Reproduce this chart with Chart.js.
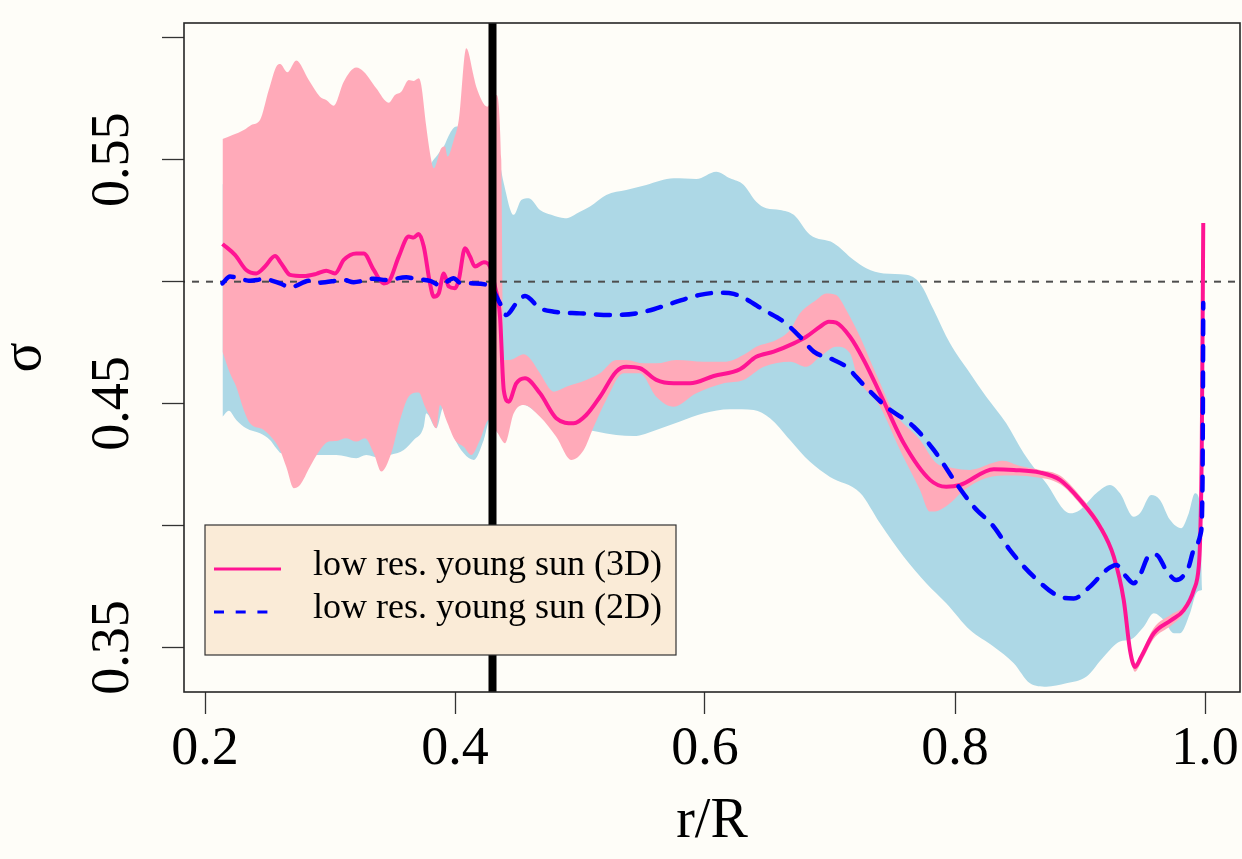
<!DOCTYPE html>
<html>
<head>
<meta charset="utf-8">
<script src="https://cdn.jsdelivr.net/npm/chart.js@4"></script>
<style>
  html, body { margin: 0; padding: 0; background: #fefdf8; }
  #wrap { width: 1242px; height: 859px; }
</style>
</head>
<body>
<div id="wrap"><canvas id="myChart" width="1242" height="859"></canvas></div>
<script>
// axis ticks
const xTicks = [0.2, 0.4, 0.6, 0.8, 1.0];
const xTickLabels = ['0.2', '0.4', '0.6', '0.8', '1.0'];
const yTicks = [0.35, 0.40, 0.45, 0.50, 0.55, 0.60];
const yTickLabels = ['0.35', '', '0.45', '', '0.55', ''];

const seriesNames = ['low res. young sun (3D)', 'low res. young sun (2D)'];

// base of convection zone and reference sigma
const rBase = 0.43;
const sigmaRef = 0.5;

// 3D run, mean
const r3D = [
  0.214,0.224,0.233,0.241,0.248,0.256,0.261,0.268,0.279,0.289,
  0.297,0.304,0.311,0.321,0.327,0.335,0.343,0.347,0.355,0.363,
  0.367,0.371,0.375,0.380,0.383,0.387,0.391,0.395,0.400,0.403,
  0.408,0.412,0.416,0.423,0.428,0.432,0.436,0.439,0.443,0.449,
  0.456,0.468,0.481,0.495,0.505,0.516,0.529,0.537,0.548,0.561,
  0.575,0.588,0.607,0.628,0.641,0.655,0.671,0.681,0.692,0.699,
  0.705,0.716,0.727,0.740,0.759,0.780,0.793,0.804,0.831,0.847,
  0.868,0.884,0.900,0.916,0.927,0.935,0.940,0.944,0.949,0.959,
  0.973,0.983,0.991,0.995,0.996,0.9974,0.9986
];
const sigma3D = [
  0.5155,0.5110,0.5048,0.5034,0.5062,0.5105,0.5075,0.5028,0.5023,0.5032,
  0.5045,0.5034,0.5089,0.5116,0.5116,0.5048,0.4993,0.5000,0.5103,0.5185,
  0.5181,0.5196,0.5144,0.4993,0.4938,0.4952,0.5034,0.4980,0.4973,0.5007,
  0.5137,0.5103,0.5062,0.5080,0.5062,0.4980,0.4857,0.4556,0.4508,0.4583,
  0.4604,0.4542,0.4440,0.4419,0.4453,0.4528,0.4631,0.4651,0.4645,0.4597,
  0.4583,0.4583,0.4613,0.4641,0.4692,0.4713,0.4747,0.4774,0.4815,0.4836,
  0.4832,0.4774,0.4679,0.4542,0.4337,0.4187,0.4159,0.4166,0.4231,0.4228,
  0.4217,0.4187,0.4105,0.3995,0.3872,0.3694,0.3489,0.3420,0.3462,0.3558,
  0.3612,0.3653,0.3735,0.3831,0.3927,0.4310,0.5241
];

// 3D run, spread (upper / lower edge)
const r3DUp = [
  0.214,0.231,0.237,0.244,0.251,0.257,0.260,0.266,0.273,0.283,
  0.292,0.297,0.303,0.311,0.321,0.327,0.337,0.347,0.352,0.357,
  0.363,0.367,0.371,0.373,0.377,0.380,0.383,0.389,0.392,0.394,
  0.399,0.403,0.409,0.415,0.417,0.426,0.429,0.433,0.437,0.439,
  0.444,0.455,0.461,0.468,0.479,0.489,0.505,0.516,0.529,0.537,
  0.551,0.561,0.577,0.599,0.617,0.633,0.641,0.657,0.668,0.676,
  0.689,0.697,0.705,0.713,0.724,0.732,0.740,0.750,0.772,0.785,
  0.798,0.812,0.830,0.838,0.852,0.868,0.884,0.900,0.916,0.927,
  0.935,0.940,0.944,0.949,0.959,0.973,0.983,0.991,0.995,0.996,
  0.9974,0.9986
];
const sigma3DUp = [
  0.5585,0.5622,0.5643,0.5663,0.5786,0.5882,0.5893,0.5859,0.5907,0.5827,
  0.5759,0.5745,0.5722,0.5820,0.5878,0.5861,0.5793,0.5734,0.5766,0.5779,
  0.5827,0.5823,0.5834,0.5807,0.5636,0.5527,0.5465,0.5547,0.5554,0.5513,
  0.5581,0.5663,0.5957,0.5841,0.5800,0.5718,0.5745,0.5766,0.5499,0.4679,
  0.4679,0.4702,0.4679,0.4624,0.4549,0.4569,0.4597,0.4624,0.4679,0.4679,
  0.4665,0.4665,0.4679,0.4672,0.4672,0.4706,0.4733,0.4761,0.4802,0.4870,
  0.4925,0.4952,0.4945,0.4884,0.4774,0.4679,0.4585,0.4474,0.4351,0.4256,
  0.4236,0.4228,0.4256,0.4265,0.4244,0.4228,0.4205,0.4122,0.4012,0.3888,
  0.3710,0.3505,0.3436,0.3478,0.3580,0.3635,0.3670,0.3750,0.3845,0.3940,
  0.4320,0.5250
];
const r3DLo = [
  0.214,0.220,0.225,0.231,0.236,0.247,0.255,0.260,0.265,0.271,
  0.276,0.284,0.292,0.299,0.305,0.313,0.321,0.328,0.335,0.341,
  0.349,0.356,0.364,0.371,0.376,0.380,0.385,0.388,0.393,0.400,
  0.407,0.413,0.420,0.427,0.434,0.440,0.447,0.455,0.468,0.481,
  0.493,0.503,0.511,0.521,0.535,0.548,0.561,0.575,0.593,0.615,
  0.631,0.647,0.668,0.681,0.692,0.705,0.716,0.722,0.740,0.756,
  0.772,0.780,0.788,0.799,0.806,0.825,0.844,0.862,0.884,0.900,
  0.916,0.927,0.935,0.940,0.944,0.949,0.959,0.973,0.983,0.991,
  0.995,0.996,0.9974,0.9986
];
const sigma3DLo = [
  0.4713,0.4624,0.4569,0.4474,0.4419,0.4392,0.4351,0.4310,0.4241,0.4153,
  0.4166,0.4241,0.4310,0.4344,0.4347,0.4358,0.4344,0.4358,0.4296,0.4221,
  0.4296,0.4433,0.4535,0.4545,0.4487,0.4446,0.4399,0.4494,0.4433,0.4351,
  0.4323,0.4289,0.4351,0.4433,0.4380,0.4337,0.4460,0.4494,0.4446,0.4364,
  0.4269,0.4310,0.4405,0.4515,0.4624,0.4624,0.4528,0.4487,0.4542,0.4583,
  0.4597,0.4651,0.4672,0.4651,0.4692,0.4733,0.4706,0.4609,0.4487,0.4310,
  0.4146,0.4057,0.4064,0.4105,0.4140,0.4195,0.4205,0.4200,0.4170,0.4088,
  0.3978,0.3855,0.3678,0.3472,0.3400,0.3440,0.3535,0.3590,0.3638,0.3720,
  0.3818,0.3915,0.4300,0.5230
];

// 2D run, mean
const r2D = [
  0.214,0.220,0.236,0.247,0.260,0.268,0.284,0.292,0.311,0.319,
  0.335,0.345,0.361,0.368,0.380,0.388,0.399,0.404,0.415,0.428,
  0.436,0.441,0.449,0.456,0.468,0.479,0.500,0.527,0.545,0.559,
  0.575,0.596,0.612,0.623,0.633,0.647,0.663,0.676,0.687,0.703,
  0.713,0.727,0.745,0.767,0.783,0.801,0.815,0.831,0.844,0.863,
  0.884,0.895,0.908,0.921,0.929,0.937,0.943,0.948,0.956,0.961,
  0.969,0.977,0.987,0.991,0.9966,0.998,0.9986
];
const sigma2D = [
  0.4993,0.5021,0.5004,0.5010,0.4993,0.4977,0.5004,0.4996,0.5007,0.4998,
  0.5012,0.5007,0.5018,0.5012,0.5003,0.4986,0.5014,0.4996,0.4993,0.4980,
  0.4911,0.4863,0.4911,0.4941,0.4891,0.4877,0.4870,0.4863,0.4870,0.4887,
  0.4914,0.4946,0.4955,0.4950,0.4928,0.4884,0.4836,0.4774,0.4713,0.4679,
  0.4651,0.4576,0.4487,0.4405,0.4310,0.4173,0.4077,0.3995,0.3899,0.3790,
  0.3708,0.3701,0.3749,0.3817,0.3838,0.3790,0.3763,0.3797,0.3879,0.3879,
  0.3817,0.3776,0.3831,0.3899,0.3968,0.4174,0.4913
];

// 2D run, spread (upper / lower edge)
const r2DUp = [
  0.214,0.260,0.300,0.350,0.372,0.378,0.381,0.386,0.391,0.396,
  0.401,0.420,0.433,0.439,0.447,0.453,0.459,0.468,0.477,0.488,
  0.500,0.508,0.521,0.537,0.553,0.575,0.593,0.609,0.620,0.631,
  0.641,0.649,0.660,0.671,0.684,0.703,0.719,0.729,0.743,0.761,
  0.772,0.783,0.796,0.812,0.825,0.841,0.855,0.873,0.892,0.900,
  0.913,0.924,0.932,0.943,0.948,0.957,0.964,0.972,0.981,0.987,
  0.992,0.996,0.9976
];
const sigma2DUp = [
  0.540,0.545,0.545,0.545,0.545,0.545,0.5486,0.5520,0.5554,0.5609,
  0.5636,0.5620,0.5554,0.5404,0.5274,0.5335,0.5342,0.5294,0.5274,0.5260,
  0.5287,0.5308,0.5356,0.5376,0.5397,0.5424,0.5421,0.5451,0.5424,0.5397,
  0.5328,0.5301,0.5294,0.5274,0.5192,0.5158,0.5089,0.5055,0.5034,0.5028,
  0.4993,0.4884,0.4747,0.4624,0.4528,0.4419,0.4296,0.4173,0.4050,0.4064,
  0.4132,0.4166,0.4132,0.4036,0.4050,0.4125,0.4105,0.4023,0.3989,0.4050,
  0.4132,0.4091,0.3735
];
const r2DLo = [
  0.214,0.219,0.225,0.233,0.244,0.252,0.257,0.261,0.276,0.292,
  0.305,0.321,0.329,0.340,0.348,0.359,0.367,0.375,0.377,0.385,
  0.391,0.399,0.407,0.415,0.423,0.428,0.435,0.440,0.448,0.455,
  0.468,0.495,0.513,0.529,0.543,0.561,0.580,0.599,0.620,0.639,
  0.652,0.668,0.684,0.700,0.724,0.740,0.759,0.777,0.793,0.812,
  0.831,0.847,0.860,0.873,0.889,0.905,0.919,0.932,0.940,0.951,
  0.959,0.967,0.975,0.980,0.988,0.993,0.9976
];
const sigma2DLo = [
  0.4446,0.4471,0.4433,0.4399,0.4378,0.4351,0.4317,0.4296,0.4289,0.4289,
  0.4289,0.4276,0.4289,0.4277,0.4289,0.4310,0.4351,0.4405,0.4460,0.4399,
  0.4488,0.4364,0.4296,0.4269,0.4351,0.4433,0.4378,0.4405,0.4481,0.4494,
  0.4453,0.4405,0.4385,0.4371,0.4367,0.4392,0.4426,0.4460,0.4477,0.4474,
  0.4440,0.4351,0.4261,0.4199,0.4134,0.4009,0.3872,0.3763,0.3681,0.3571,
  0.3503,0.3435,0.3353,0.3339,0.3353,0.3380,0.3462,0.3524,0.3531,0.3585,
  0.3640,0.3612,0.3558,0.3558,0.3640,0.3722,0.3735
];

const pink = '#ff1493';
const blue = '#0000ff';

function pts(xs, ys) {
  return xs.map((x, i) => ({x: x, y: ys[i]}));
}

const xMin = 0.1832, xMax = 1.028;
const yMin = 0.3317, yMax = 0.6061;

// legend box and plot frame, drawn like base R
const frameAndLegend = {
  id: 'frameAndLegend',
  afterDraw(chart) {
    const {ctx, chartArea: a} = chart;
    ctx.save();
    ctx.strokeStyle = '#262626';
    ctx.lineWidth = 1.6;
    ctx.strokeRect(a.left, a.top, a.right - a.left, a.bottom - a.top);

    const left = a.left + 21, top = a.bottom - 167, w = 471, h = 130;
    ctx.fillStyle = '#faebd7';
    ctx.fillRect(left, top, w, h);
    ctx.lineWidth = 1.2;
    ctx.strokeStyle = '#333';
    ctx.strokeRect(left, top, w, h);

    const items = [
      {label: seriesNames[0], color: pink, dash: [], len: 67},
      {label: seriesNames[1], color: blue, dash: [10, 11.7], len: 54}
    ];
    ctx.font = '36px "Liberation Serif"';
    ctx.textBaseline = 'middle';
    items.forEach((it, i) => {
      const y = top + 44 + i * 43;
      ctx.beginPath();
      ctx.setLineDash(it.dash);
      ctx.strokeStyle = it.color;
      ctx.lineWidth = 3;
      ctx.moveTo(left + 9, y);
      ctx.lineTo(left + 9 + it.len, y);
      ctx.stroke();
      ctx.setLineDash([]);
      ctx.fillStyle = '#000';
      ctx.fillText(it.label, left + 108, y - 3);
    });
    ctx.restore();
  }
};

Chart.defaults.font.family = '"Liberation Serif", "Times New Roman", serif';
Chart.defaults.color = '#000';

const ctx = document.getElementById('myChart');
new Chart(ctx, {
  type: 'scatter',
  data: {
    datasets: [
      // 0 base of convection zone
      { data: [{x: rBase, y: 0.30}, {x: rBase, y: 0.65}], showLine: true,
        borderColor: '#000', borderWidth: 8, clip: 0, order: 0 },
      // 1 2D mean
      { label: seriesNames[1], data: pts(r2D, sigma2D), showLine: true,
        borderColor: blue, borderWidth: 4.5, borderDash: [14, 12], borderCapStyle: 'round',
        cubicInterpolationMode: 'monotone', clip: 0, order: 1 },
      // 2 3D mean
      { label: seriesNames[0], data: pts(r3D, sigma3D), showLine: true,
        borderColor: pink, borderWidth: 4,
        cubicInterpolationMode: 'monotone', clip: 0, order: 2 },
      // 3 reference line
      { data: [{x: 0.1, y: sigmaRef}, {x: 1.1, y: sigmaRef}], showLine: true,
        borderColor: '#4d4d4d', borderWidth: 2, borderDash: [7, 7], clip: 0, order: 3 },
      // 4-5 3D band
      { data: pts(r3DUp, sigma3DUp), showLine: true, borderWidth: 0, borderColor: 'rgba(0,0,0,0)',
        backgroundColor: '#ffaab9', fill: 5, cubicInterpolationMode: 'monotone', clip: 0, order: 4 },
      { data: pts(r3DLo, sigma3DLo), showLine: true, borderWidth: 0, borderColor: 'rgba(0,0,0,0)',
        fill: false, cubicInterpolationMode: 'monotone', clip: 0, order: 4 },
      // 6-7 2D band
      { data: pts(r2DUp, sigma2DUp), showLine: true, borderWidth: 0, borderColor: 'rgba(0,0,0,0)',
        backgroundColor: '#add8e6', fill: 7, cubicInterpolationMode: 'monotone', clip: 0, order: 5 },
      { data: pts(r2DLo, sigma2DLo), showLine: true, borderWidth: 0, borderColor: 'rgba(0,0,0,0)',
        fill: false, cubicInterpolationMode: 'monotone', clip: 0, order: 5 }
    ]
  },
  options: {
    responsive: false,
    animation: false,
    events: [],
    layout: { padding: { top: 23, right: 2, left: 0, bottom: 0 } },
    elements: { point: { radius: 0, hoverRadius: 0 } },
    plugins: { legend: { display: false }, tooltip: { enabled: false } },
    scales: {
      x: {
        type: 'linear', min: xMin, max: xMax,
        afterBuildTicks: (s) => { s.ticks = xTicks.map(v => ({value: v})); },
        afterFit: (s) => { s.height = 167; s.paddingLeft = 0; s.paddingRight = 0; },
        ticks: { autoSkip: false, maxRotation: 0, padding: 3, font: { size: 54 },
                 callback: (v, i) => xTickLabels[i] },
        grid: { display: true, drawOnChartArea: false, drawTicks: true, tickLength: 22,
                tickColor: '#333', tickWidth: 1.3 },
        border: { display: false },
        title: { display: true, text: 'r/R', font: { size: 56 }, padding: { top: 0, bottom: 3 } }
      },
      y: {
        type: 'linear', min: yMin, max: yMax,
        afterBuildTicks: (s) => { s.ticks = yTicks.map(v => ({value: v})); },
        afterFit: (s) => { s.width = 184; s.paddingTop = 0; s.paddingBottom = 0; },
        ticks: { autoSkip: false, minRotation: 90, maxRotation: 90, crossAlign: 'center',
                 padding: 1, font: { size: 54 }, callback: (v, i) => yTickLabels[i] },
        grid: { display: true, drawOnChartArea: false, drawTicks: true, tickLength: 22,
                tickColor: '#333', tickWidth: 1.3 },
        border: { display: false },
        title: { display: true, text: 'σ', font: { size: 56, lineHeight: 0.9 }, padding: 0 }
      }
    }
  },
  plugins: [frameAndLegend]
});
</script>
</body>
</html>
